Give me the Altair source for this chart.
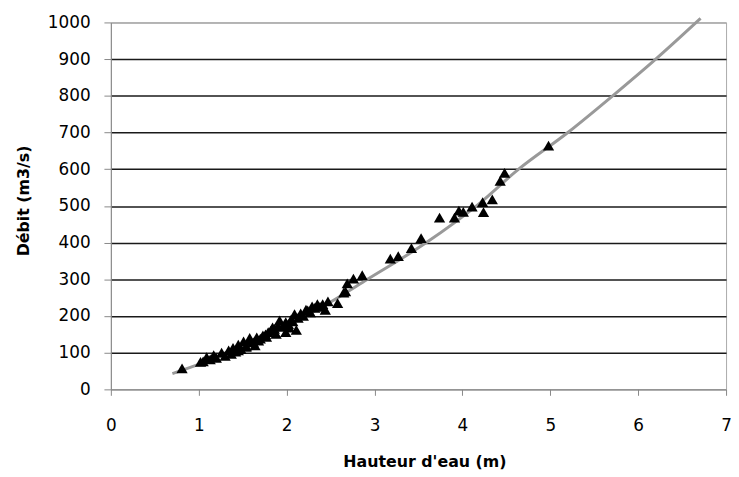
import altair as alt
import pandas as pd

# Fitted rating curve
curve_h = [0.70, 1.00, 1.50, 2.00, 2.50, 2.92, 3.59, 4.16, 4.64, 5.20, 5.71, 6.20, 6.71]
curve_q = [43, 68, 115, 172, 238, 300, 400, 500, 600, 700, 800, 900, 1011]

# Gauged points (triangles)
obs_h = [0.81, 1.02, 1.05, 1.09, 1.13, 1.17, 1.20, 1.26, 1.30, 1.34, 1.37, 1.39, 1.42,
         1.45, 1.45, 1.48, 1.51, 1.54, 1.54, 1.58, 1.58, 1.62, 1.64, 1.66, 1.68, 1.70,
         1.73, 1.76, 1.77, 1.79, 1.82, 1.84, 1.86, 1.88, 1.90, 1.92, 1.95, 1.99, 1.99,
         2.02, 2.03, 2.05, 2.07, 2.09, 2.11, 2.13, 2.16, 2.19, 2.22, 2.24, 2.27, 2.29,
         2.32, 2.35, 2.38, 2.41, 2.44, 2.47, 2.58, 2.65, 2.67, 2.69, 2.76, 2.86, 3.18,
         3.27, 3.42, 3.53, 3.74, 3.91, 3.96, 4.01, 4.11, 4.23, 4.24, 4.34, 4.43, 4.48,
         4.98]
obs_q = [57, 75, 76, 88, 82, 93, 86, 100, 91, 106, 97, 113, 103,
         122, 106, 110, 131, 116, 118, 140, 133, 128, 120, 142, 133, 138,
         147, 150, 143, 156, 160, 169, 165, 151, 174, 188, 170, 183, 156,
         178, 168, 190, 185, 205, 162, 195, 207, 200, 217, 215, 210, 226,
         222, 232, 225, 232, 217, 240, 235, 264, 267, 289, 302, 311, 356,
         363, 385, 412, 468, 468, 487, 484, 498, 510, 483, 518, 568, 590,
         664]

x_ticks = [0, 1, 2, 3, 4, 5, 6, 7]
y_ticks = [0, 100, 200, 300, 400, 500, 600, 700, 800, 900, 1000]

curve_df = pd.DataFrame({"h": curve_h, "q": curve_q})
obs_df = pd.DataFrame({"h": obs_h, "q": obs_q})

FONT = "DejaVu Sans"

xs = alt.Scale(domain=[0, 7], nice=False)
ys = alt.Scale(domain=[0, 1000], nice=False)

x_axis = alt.Axis(
    title="Hauteur d'eau (m)", values=x_ticks, format="d", grid=False,
    labelOverlap=False,
    domainColor="#888888", tickColor="#888888", tickSize=6,
    labelFont=FONT, labelFontSize=17, labelColor="#000000", labelPadding=23,
    labelFlush=False,
    titleFont=FONT, titleFontSize=16, titleFontWeight="bold", titleColor="#000000",
    titleX=317, titleY=73, titleBaseline="middle", titleAlign="center",
)
y_axis = alt.Axis(
    title="Débit (m3/s)", values=y_ticks, format="d",
    labelOverlap=False,
    grid=True,
    gridColor={"condition": {"test": "datum.value == 0 || datum.value == 1000", "value": "#aaaaaa"},
               "value": "#1a1a1a"},
    gridWidth=1.5,
    domainColor="#888888", tickColor="#888888", tickSize=7,
    labelFont=FONT, labelFontSize=17, labelColor="#000000", labelPadding=14,
    labelFlush=False,
    titleFont=FONT, titleFontSize=16, titleFontWeight="bold", titleColor="#000000",
    titleAngle=270, titleX=-88, titleY=180, titleAlign="center", titleBaseline="middle",
)

line = alt.Chart(curve_df).mark_line(
    color="#999999", strokeWidth=3, interpolate="monotone", clip=False
).encode(
    x=alt.X("h:Q", scale=xs, axis=x_axis),
    y=alt.Y("q:Q", scale=ys, axis=y_axis),
)

pts = alt.Chart(obs_df).mark_point(
    shape="triangle-up", filled=True, color="#000000", opacity=1, size=130, clip=False
).encode(
    x=alt.X("h:Q", scale=xs, axis=x_axis),
    y=alt.Y("q:Q", scale=ys, axis=y_axis),
)

chart = alt.layer(line, pts).properties(
    width=622, height=371,
    autosize=alt.AutoSizeParams(type="none"),
    padding={"left": 104, "top": 12, "right": 5, "bottom": 85},
    background="#ffffff",
).configure_view(stroke="#aaaaaa", strokeWidth=1)

chart.save("out.html", embed_options={"renderer": "svg", "actions": False})
